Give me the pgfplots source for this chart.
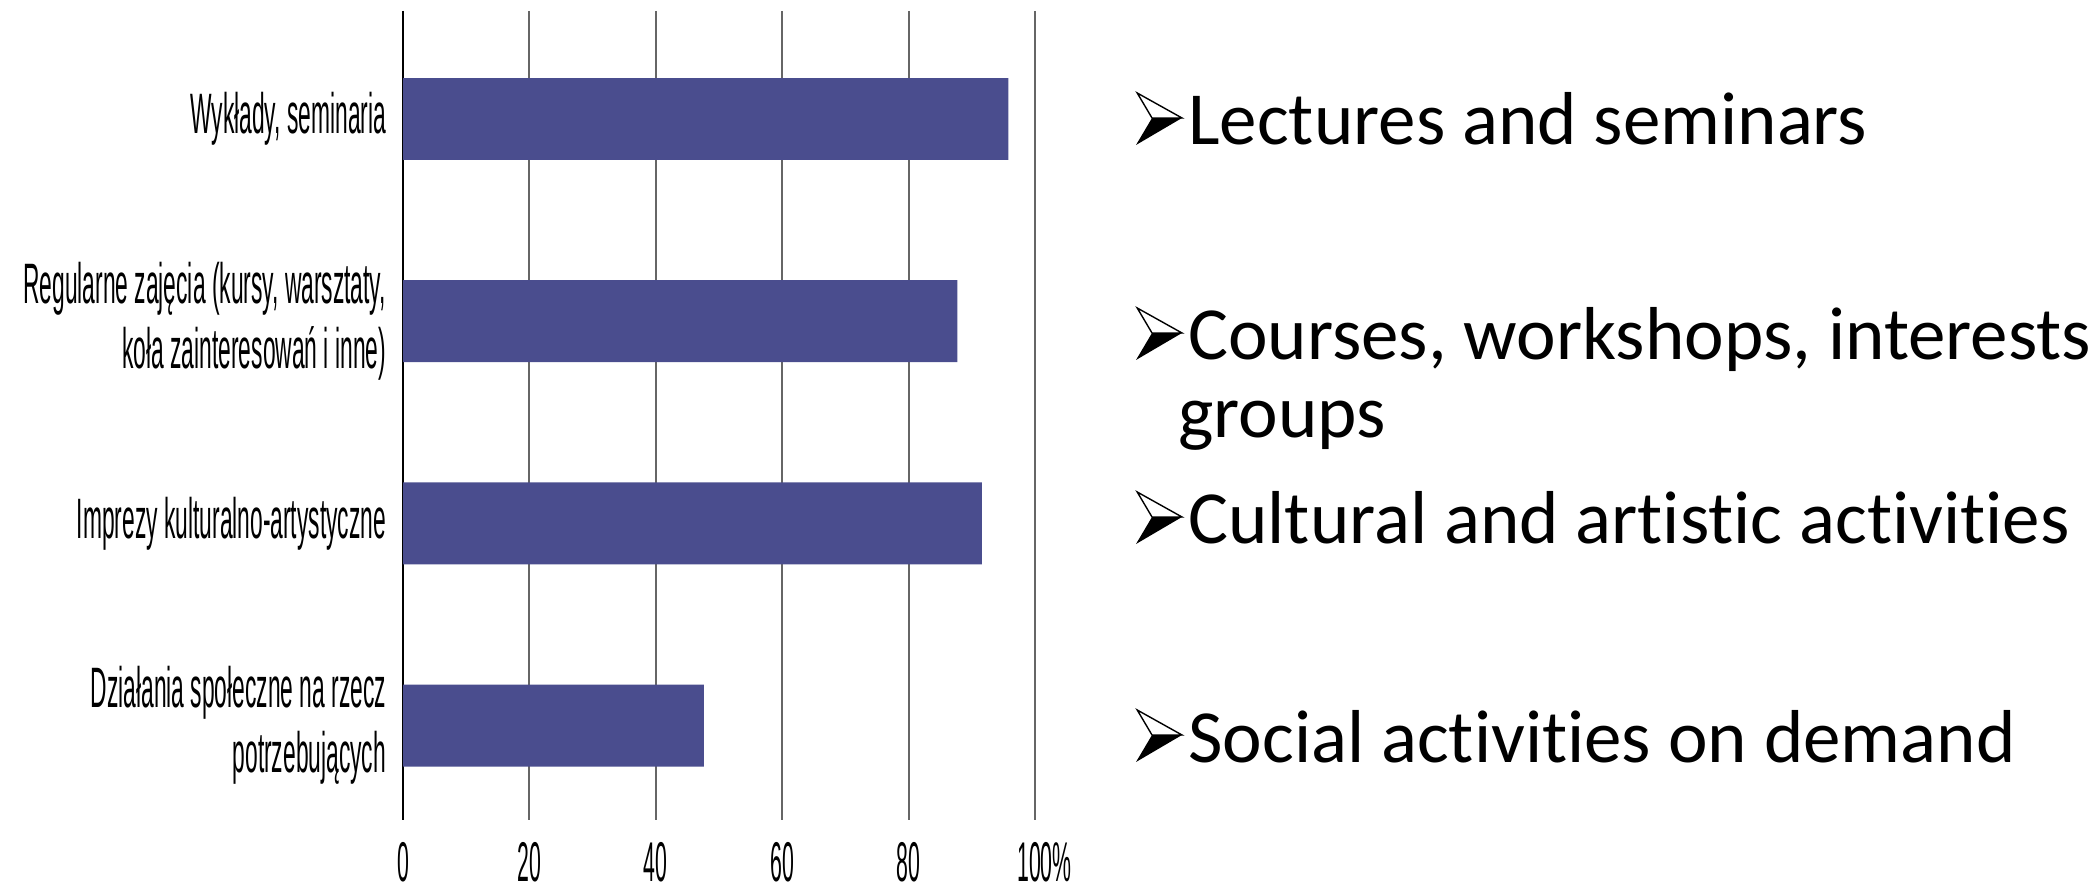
\documentclass[border=0pt]{standalone}
\usepackage{pgfplots}
\pgfplotsset{compat=1.18}
\usepackage{fontspec}
\setmainfont{Liberation Sans}
\newfontfamily\narrow[FakeStretch=0.4]{Liberation Sans}
\newfontfamily\narrowtick[FakeStretch=0.38]{Liberation Sans}
\newfontfamily\calibri[Ligatures=NoCommon]{Carlito}
\definecolor{barblue}{RGB}{74,77,142}
\newcommand{\bul}[2]{%
  \begin{scope}[shift={(#1,#2)}]
    \fill[black] (8,13.5) -- (23,13.5) -- (0,0) -- cycle;
    \draw[black, line width=0.7pt, line join=miter, fill=white] (0.6,26) -- (23,13.5) -- (8,13.5) -- cycle;
  \end{scope}}
\begin{document}
\begin{tikzpicture}[x=1pt,y=1pt]
\path[use as bounding box] (0,0) rectangle (1046,447);
\begin{axis}[
  at={(201.5pt,37pt)}, anchor=south west,
  scale only axis, width=316pt, height=404.5pt,
  xbar, bar width=0.405,
  xmin=0, xmax=100,
  ymin=-0.534, ymax=3.467, y dir=reverse,
  axis line style={draw=none},
  xtick={0,20,40,60,80,100},
  xticklabels={0,20,40,60,80,100\rlap{\%}},
  xmajorgrids, major grid style={black!60, line width=1pt},
  extra x ticks={0}, extra x tick labels={},
  extra x tick style={grid=major, major grid style={black, line width=1.2pt}},
  ytick={0,1,2,3},
  yticklabels={{Wykłady, seminaria},{Regularne zajęcia (kursy, warsztaty,\\koła zainteresowań i inne)},{Imprezy kulturalno-artystyczne},{Działania społeczne na rzecz\\potrzebujących}},
  tick style={draw=none},
  xticklabel style={font=\narrowtick\fontsize{28}{31}\selectfont, inner sep=0pt, anchor=north, yshift=-11pt},
  yticklabel style={font=\narrow\fontsize{28.5}{32.5}\selectfont, inner sep=0pt, anchor=east, xshift=-4pt, align=right},
]
\addplot[fill=barblue, draw=none] coordinates {(95.8,0) (87.7,1) (91.6,2) (47.6,3)};
\end{axis}
\bul{568}{374.5}
\bul{568}{267}
\bul{568}{175}
\bul{568}{66}
\begin{scope}[every node/.style={anchor=base west, inner sep=0pt, font=\calibri\fontsize{37.5}{39}\selectfont}]
\node at (594,374.5) {Lectures and seminars};
\node at (594,267) {Courses, workshops, interests};
\node at (589,228) {groups};
\node at (594,175) {Cultural and artistic activities};
\node at (594,66) {Social activities on demand};
\end{scope}
\end{tikzpicture}
\end{document}
